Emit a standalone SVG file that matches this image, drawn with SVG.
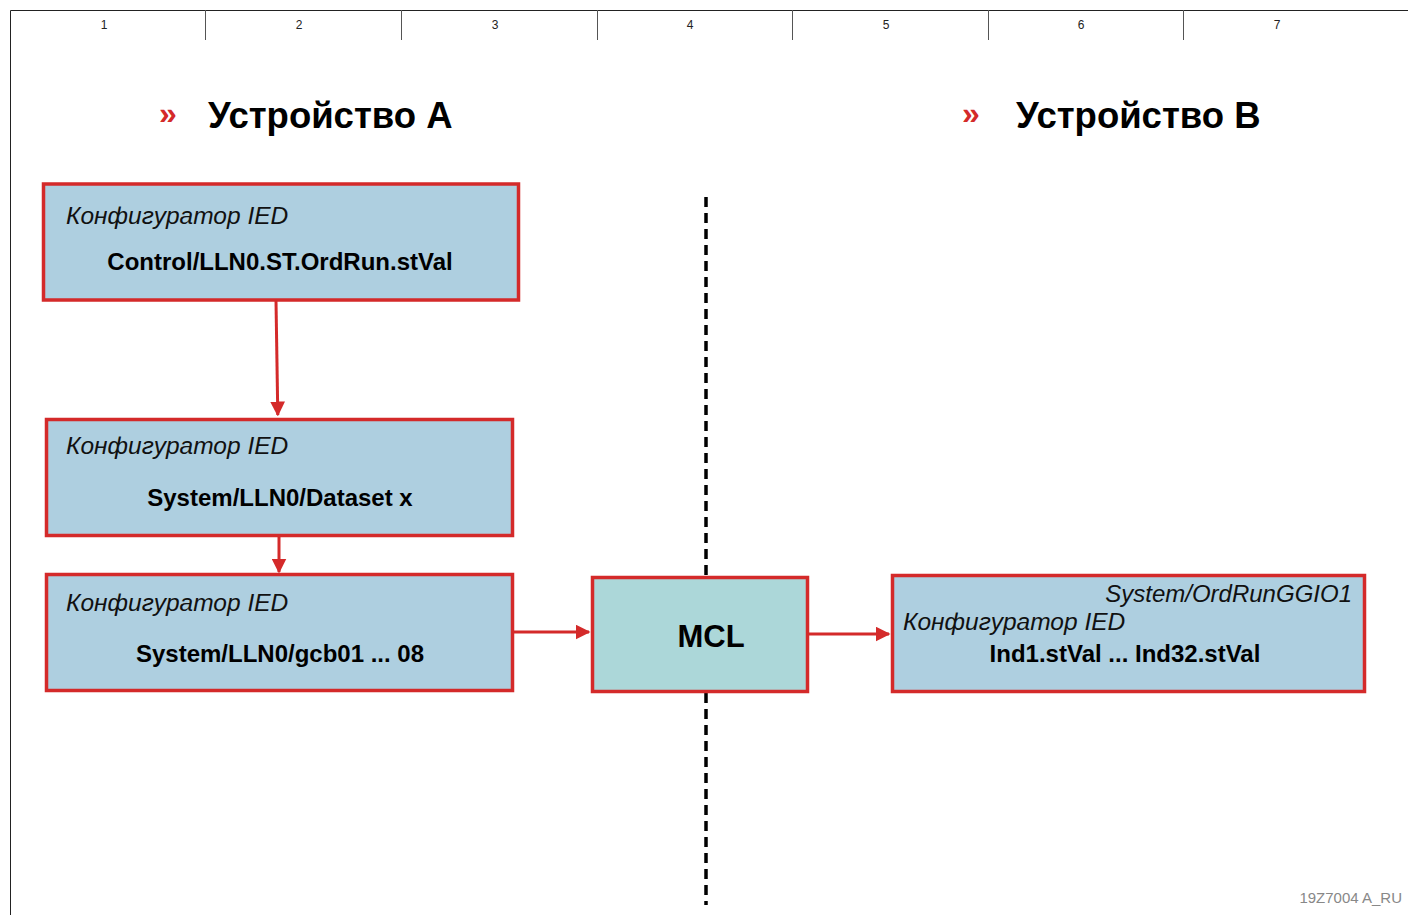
<svg xmlns="http://www.w3.org/2000/svg" width="1408" height="915" viewBox="0 0 1408 915">
<defs>
<style>
.frame{stroke:#222;stroke-width:1;fill:none}
.div{stroke:#555;stroke-width:1}
.num{font-family:"Liberation Sans Narrow","Liberation Sans",sans-serif;font-size:12px;fill:#222;text-anchor:middle}
.hdr{font-family:"Liberation Sans",Arial,sans-serif;font-weight:bold;font-size:36.5px;fill:#000}
.raq{font-family:"Liberation Sans",Arial,sans-serif;font-weight:bold;font-size:32px;fill:#d42a2a}
.box{fill:#aecfe0;stroke:#d42a2a;stroke-width:3.5}
.mcl{fill:#acd7d9;stroke:#d42a2a;stroke-width:3.5}
.it{font-family:"Liberation Sans",Arial,sans-serif;font-style:italic;font-size:24.5px;fill:#111}
.bd{font-family:"Liberation Sans",Arial,sans-serif;font-weight:bold;font-size:24px;fill:#000;text-anchor:middle}
.conn{stroke:#d42a2a;stroke-width:3;fill:none}
.dash{stroke:#000;stroke-width:3.5;stroke-dasharray:10 6;fill:none}
.foot{font-family:"Liberation Sans",Arial,sans-serif;font-size:15px;fill:#888;text-anchor:end}
</style>
<marker id="ah" viewBox="0 0 10 10" refX="9" refY="5" markerWidth="5" markerHeight="5" orient="auto" markerUnits="strokeWidth">
<path d="M0,0 L10,5 L0,10 z" fill="#d42a2a"/>
</marker>
</defs>
<rect width="1408" height="915" fill="#fff"/>
<g id="frame">
<path class="frame" d="M10.5,915 V10.5 H1408"/>
<path class="div" d="M205.5,10 V40 M401.5,10 V40 M597.5,10 V40 M792.5,10 V40 M988.5,10 V40 M1183.5,10 V40"/>
<text class="num" x="104" y="29">1</text>
<text class="num" x="299" y="29">2</text>
<text class="num" x="495" y="29">3</text>
<text class="num" x="690" y="29">4</text>
<text class="num" x="886" y="29">5</text>
<text class="num" x="1081" y="29">6</text>
<text class="num" x="1277" y="29">7</text>
</g>
<g id="headers">
<text class="raq" x="159" y="124">»</text>
<text class="hdr" x="208" y="128">Устройство A</text>
<text class="raq" x="962" y="124">»</text>
<text class="hdr" x="1016" y="128">Устройство B</text>
</g>
<g id="divider">
<path class="dash" d="M706,197 V905"/>
</g>
<g id="connectors">
<path class="conn" d="M276,301 L277.8,415" marker-end="url(#ah)"/>
<path class="conn" d="M279,536 V572" marker-end="url(#ah)"/>
<path class="conn" d="M512,632 H589" marker-end="url(#ah)"/>
<path class="conn" d="M808,634 H889" marker-end="url(#ah)"/>
</g>
<g id="node1">
<rect class="box" x="43.5" y="184" width="475" height="116"/>
<text class="it" x="66" y="224">Конфигуратор IED</text>
<text class="bd" x="280" y="270">Control/LLN0.ST.OrdRun.stVal</text>
</g>
<g id="node2">
<rect class="box" x="46.5" y="419.5" width="466" height="116"/>
<text class="it" x="66" y="454">Конфигуратор IED</text>
<text class="bd" x="280" y="506">System/LLN0/Dataset x</text>
</g>
<g id="node3">
<rect class="box" x="46.5" y="574.5" width="466" height="116"/>
<text class="it" x="66" y="611">Конфигуратор IED</text>
<text class="bd" x="280" y="662">System/LLN0/gcb01 ... 08</text>
</g>
<g id="mcl">
<rect class="mcl" x="592.5" y="577.5" width="215" height="114"/>
<text class="bd" x="711" y="647" style="font-size:31px">MCL</text>
</g>
<g id="nodeB">
<rect class="box" x="892.5" y="575.5" width="472" height="116"/>
<text class="it" x="1352" y="602" style="text-anchor:end;font-size:24px">System/OrdRunGGIO1</text>
<text class="it" x="903" y="630">Конфигуратор IED</text>
<text class="bd" x="1125" y="662">Ind1.stVal ... Ind32.stVal</text>
</g>
<text class="foot" x="1402" y="903">19Z7004 A_RU</text>
</svg>
